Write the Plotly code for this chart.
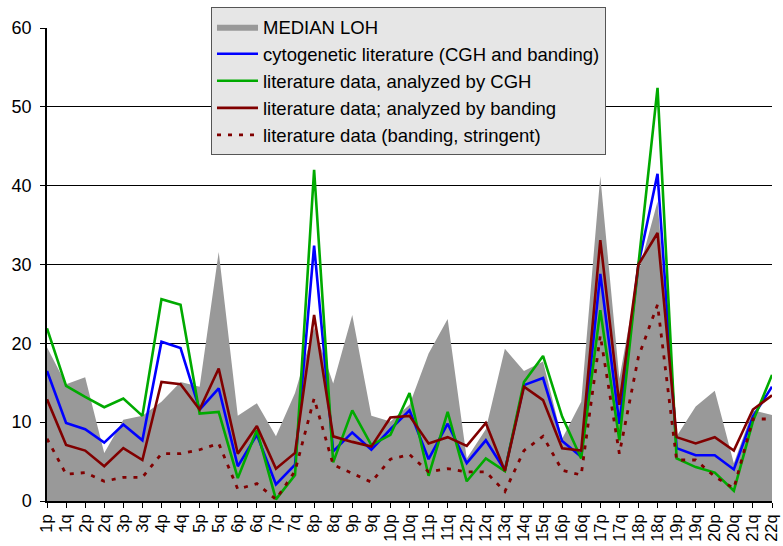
import plotly.graph_objects as go

# Chromosome arms along the x axis
arms = ["1p", "1q", "2p", "2q", "3p", "3q", "4p", "4q", "5p", "5q", "6p", "6q",
        "7p", "7q", "8p", "8q", "9p", "9q", "10p", "10q", "11p", "11q", "12p",
        "12q", "13q", "14q", "15q", "16p", "16q", "17p", "17q", "18p", "18q",
        "19p", "19q", "20p", "20q", "21q", "22q"]

# Median LOH frequency (%) per arm
median_loh = [19.5, 14.8, 15.7, 6.1, 10.3, 10.8, 12.6, 15.1, 14.5, 31.6, 10.8, 12.4,
              8.2, 13.7, 22.0, 14.9, 23.6, 10.8, 10.1, 12.2, 18.7, 23.1, 5.4,
              9.1, 19.3, 16.5, 17.7, 7.9, 12.6, 41.2, 15.5, 29.0, 38.0,
              8.2, 12.0, 14.0, 4.8, 11.5, 10.9]

# Cytogenetic literature, CGH and banding combined
cyto_all = [16.5, 9.9, 9.1, 7.4, 9.7, 7.7, 20.2, 19.4, 11.6, 14.3, 4.4, 8.4,
            2.1, 4.6, 32.4, 6.3, 8.7, 6.5, 9.1, 11.5, 5.3, 9.8, 4.8,
            7.7, 3.9, 14.7, 15.6, 7.6, 5.6, 28.8, 9.8, 30.0, 41.5,
            6.7, 5.8, 5.8, 4.0, 10.7, 14.5]

# Literature data analysed by CGH
lit_cgh = [21.9, 14.6, 13.2, 11.9, 13.0, 10.8, 25.6, 24.9, 11.1, 11.3, 2.9, 9.0,
           0.2, 3.3, 42.0, 4.9, 11.5, 7.1, 8.4, 13.7, 3.2, 11.3, 2.5,
           5.4, 3.8, 15.1, 18.4, 10.7, 5.4, 24.2, 7.7, 30.5, 52.4,
           5.4, 4.3, 3.6, 1.3, 10.1, 16.0]

# Literature data analysed by banding
lit_banding = [12.9, 7.1, 6.4, 4.4, 6.7, 5.2, 15.1, 14.8, 11.6, 16.8, 6.0, 9.5,
               4.1, 6.1, 23.6, 8.2, 7.5, 6.9, 10.6, 10.8, 7.3, 8.1, 7.0,
               9.9, 3.8, 14.5, 12.8, 6.7, 6.4, 33.1, 12.2, 30.0, 34.0,
               8.1, 7.3, 8.1, 6.4, 11.6, 13.4]

# Literature data, banding with stringent criteria
lit_stringent = [7.9, 3.4, 3.6, 2.5, 3.0, 3.0, 6.0, 6.0, 6.5, 7.3, 1.5, 2.2,
                 0.2, 3.8, 13.0, 4.6, 3.5, 2.4, 5.3, 5.9, 3.7, 4.1, 3.7,
                 3.7, 1.2, 6.4, 8.2, 3.9, 3.3, 21.0, 6.0, 18.3, 24.9,
                 5.2, 5.2, 3.1, 1.6, 10.4, 10.4]

y_ticks = [0, 10, 20, 30, 40, 50, 60]

FONT = "Arial, Liberation Sans, sans-serif"

fig = go.Figure()
fig.add_trace(go.Scatter(x=arms, y=median_loh, name="MEDIAN LOH", mode="lines",
                         fill="tozeroy", fillcolor="#999999",
                         line=dict(width=0, color="#999999"), legendgroup="a"))
fig.add_trace(go.Scatter(x=arms, y=cyto_all, name="cytogenetic literature (CGH and banding)",
                         mode="lines", line=dict(color="#0000ff", width=2.6), legendgroup="b"))
fig.add_trace(go.Scatter(x=arms, y=lit_cgh, name="literature data, analyzed by CGH",
                         mode="lines", line=dict(color="#00aa00", width=2.6), legendgroup="c"))
fig.add_trace(go.Scatter(x=arms, y=lit_banding, name="literature data; analyzed by banding",
                         mode="lines", line=dict(color="#800000", width=2.6), legendgroup="d"))
fig.add_trace(go.Scatter(x=arms, y=lit_stringent, name="literature data (banding, stringent)",
                         mode="lines", line=dict(color="#800000", width=2.8, dash="4px,7px"),
                         legendgroup="e"))

fig.update_layout(
    width=783, height=546,
    margin=dict(l=47, r=11, t=28, b=45, autoexpand=False),
    paper_bgcolor="white", plot_bgcolor="white",
    font=dict(family=FONT, color="black"),
    showlegend=True,
    legend=dict(x=0.2262, y=1.044, xanchor="left", yanchor="top",
                bgcolor="#e6e6e6", bordercolor="#555555", borderwidth=1,
                font=dict(size=18.5, family=FONT), tracegroupgap=6,
                itemwidth=41, traceorder="normal"),
    xaxis=dict(type="category", range=[0, 38], showgrid=False, automargin=False,
               tickmode="array", tickvals=arms, ticktext=arms,
               showline=True, linecolor="black", linewidth=1.5,
               ticks="outside", ticklen=5, tickcolor="black",
               tickangle=-90, tickfont=dict(size=16.5), zeroline=False),
    yaxis=dict(range=[0, 60], tickmode="array", tickvals=y_ticks, automargin=False,
               showgrid=True, gridcolor="black", gridwidth=1,
               showline=True, linecolor="black", linewidth=1.5,
               ticks="outside", ticklen=5, tickcolor="black",
               ticklabelstandoff=5,
               tickfont=dict(size=18), zeroline=False),
)

fig.write_html("out.html")
